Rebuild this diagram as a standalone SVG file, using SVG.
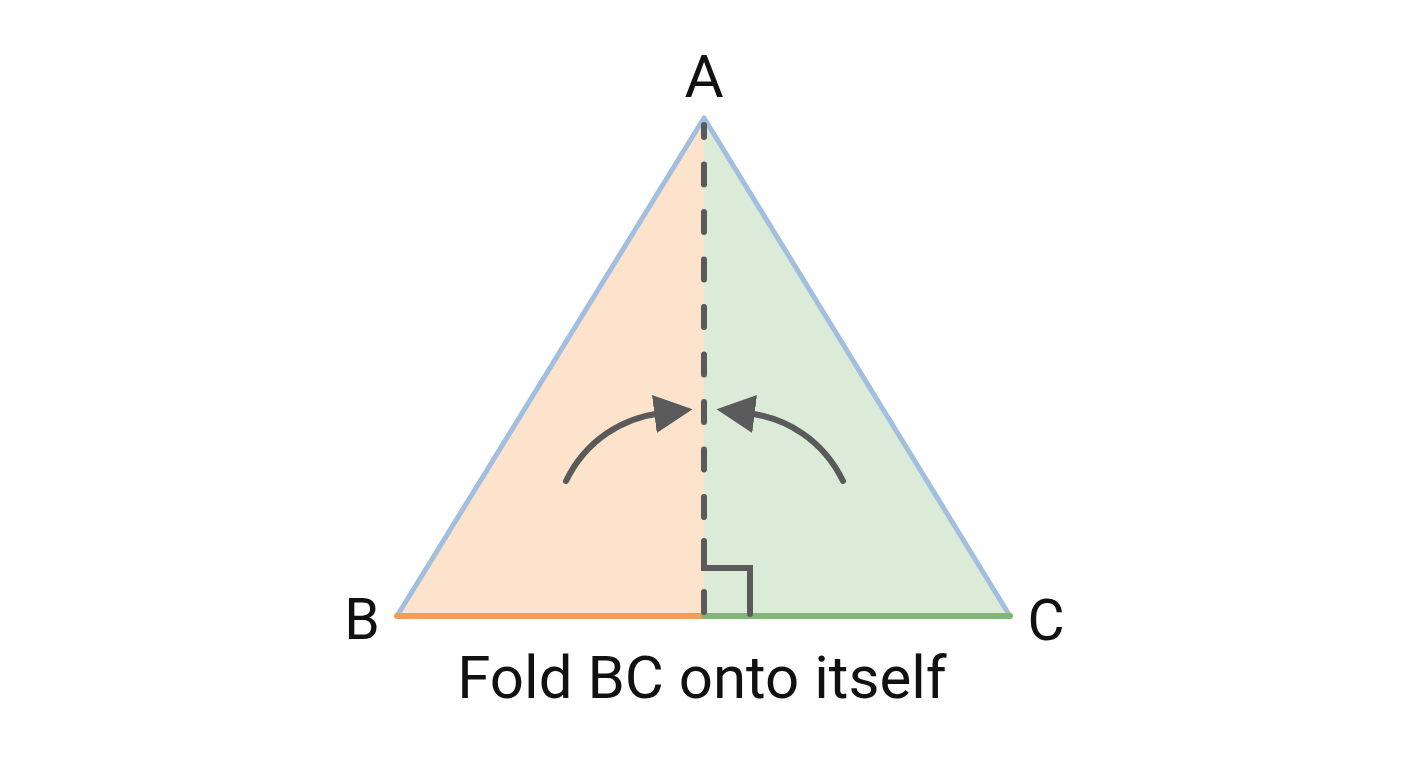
<svg xmlns="http://www.w3.org/2000/svg" width="1408" height="768" viewBox="0 0 1408 768">
<style>
.lbl{font-family:Roboto,"Liberation Sans",Arial,sans-serif;fill:#111;text-anchor:middle}
.edge{fill:none;stroke:#a2bfdf;stroke-width:5;stroke-linejoin:round;stroke-linecap:round}
.dk{fill:none;stroke:#5a5a5a;stroke-width:6;stroke-linecap:round;stroke-linejoin:miter}
</style>
<defs>
<marker id="ah" viewBox="0 0 10 10" refX="2" refY="5" markerWidth="6.4" markerHeight="6.4" orient="auto" markerUnits="strokeWidth">
<path d="M0,0 L10,5 L0,10 z" fill="#5a5a5a"/>
</marker>
</defs>
<rect width="1408" height="768" fill="#ffffff"/>
<g id="triangle">
<polygon points="704,118 397,616 704,616" fill="#fde3cc"/>
<polygon points="704,118 1010,616 704,616" fill="#dbebd8"/>
<path class="edge" d="M397,616 L704,118 L1010,616"/>
<line x1="397" y1="616" x2="704" y2="616" stroke="#f09c5c" stroke-width="6" stroke-linecap="round"/>
<line x1="704" y1="616" x2="1010" y2="616" stroke="#80b775" stroke-width="6" stroke-linecap="round"/>
</g>
<g id="connectors">
<path class="dk" d="M704,125 V613" stroke-dasharray="20 27.5" stroke-dashoffset="8"/>
<path class="dk" d="M704,541 V568 H750 V614" stroke-linecap="butt"/>
<path class="dk" d="M566,481 C586,440 622,418 662,413" marker-end="url(#ah)"/>
<path class="dk" d="M843,481 C823,440 787,418 747,413" marker-end="url(#ah)"/>
</g>
<g id="label-A"><text class="lbl" x="704" y="97" font-size="60">A</text></g>
<g id="label-B"><text class="lbl" x="362" y="639" font-size="57">B</text></g>
<g id="label-C"><text class="lbl" x="1046" y="640" font-size="57">C</text></g>
<g id="caption"><text class="lbl" x="702" y="698" font-size="60">Fold BC onto itself</text></g>
</svg>
